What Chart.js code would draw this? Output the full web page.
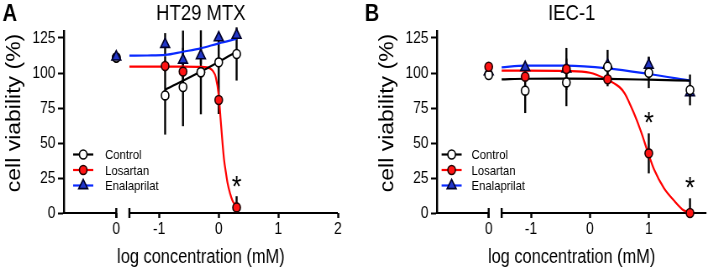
<!DOCTYPE html>
<html>
<head>
<meta charset="utf-8">
<script src="https://cdn.jsdelivr.net/npm/chart.js@4.4.1/dist/chart.umd.min.js"></script>
<style>
html,body{margin:0;padding:0;background:#fff;overflow:hidden;}
#wrap{position:relative;width:713px;height:271px;background:#fff;}
#wrap canvas{position:absolute;top:0;}
</style>
</head>
<body>
<div id="wrap"><canvas id="chartA"></canvas><canvas id="chartB"></canvas></div>
<script>
// ---------------- data ----------------
const seriesNames = ['Control', 'Losartan', 'Enalaprilat'];
const panelTitles = ['HT29 MTX', 'IEC-1'];
const panelLetters = ['A', 'B'];
const xAxisTitle = 'log concentration (mM)';
const yAxisTitle = 'cell viability (%)';
const CONTROL_X = -1.72;   // axis slot of the untreated ("0") dose, left of the axis break
const BREAK_X = -1.5;      // where the log axis resumes after the break
const yTicks = [0, 25, 50, 75, 100, 125];
const xTicksA = [CONTROL_X, -1, 0, 1, 2];
const xTicksB = [CONTROL_X, -1, 0, 1];

// Panel A : HT29 MTX
const doseA = [CONTROL_X, -0.9, -0.6, -0.3, 0, 0.3];
const controlA = [111, 84, 90, 100.5, 107.6, 113.6];
const controlA_sd = [0, 28, 28, 30, 17, 19];
const losartanA = [111, 105, 101, 100.5, 80.7, 4];
const losartanA_sd = [0, 4, 4, 4, 10, 8];
const enalaprilatA = [111.5, 120.5, 109.3, 112.4, 125.2, 127];
const enalaprilatA_sd = [0, 8, 21, 6, 2, 2];
const starsA_x = [0.3];
const starsA_y = [25];
const fitControlA_x = [-0.9, -0.3, 0.3];
const fitControlA_y = [88, 101, 115.2];
const fitLosartanA_x = [-1.5, -0.9, -0.6, -0.3, -0.2, -0.15, -0.1, -0.05, 0, 0.03, 0.06, 0.09, 0.12, 0.15, 0.19, 0.23, 0.27, 0.3];
const fitLosartanA_y = [104.6, 104.6, 104.6, 104.4, 104, 103.3, 101.5, 97, 84, 68, 52, 38, 29, 21, 14, 9, 6, 4];
const fitEnalaprilatA_x = [-1.5, -1.2, -0.9, -0.6, -0.3, 0, 0.3];
const fitEnalaprilatA_y = [112.4, 112.5, 112.9, 115.2, 117.6, 121.2, 124.3];

// Panel B : IEC-1
const doseB = [CONTROL_X, -1.1, -0.4, 0.3, 1.0, 1.7];
const controlB = [98.6, 87.4, 93.3, 104.5, 100.2, 87.9];
const controlB_sd = [0, 16, 17, 12, 11, 11];
const losartanB = [104.5, 97.4, 102.9, 95.5, 42.6, 0];
const losartanB_sd = [0, 3, 15, 5, 14.3, 10.5];
const enalaprilatB = [101, 104, 103, 105.7, 105.7, 86];
const enalaprilatB_sd = [0, 3, 0, 0, 6, 3];
const starsB_x = [1.0, 1.7];
const starsB_y = [70.7, 23.6];
const fitControlB_x = [-1.5, -1.1, -0.4, 0.3, 1.0, 1.7];
const fitControlB_y = [95.5, 95.9, 96, 95.8, 95.2, 94.5];
const fitLosartanB_x = [-1.5, -1.1, -0.4, 0, 0.25, 0.5, 0.59, 0.75, 0.86, 0.98, 1.09, 1.26, 1.42, 1.59, 1.7];
const fitLosartanB_y = [101.7, 101.7, 101.4, 100.2, 96.2, 90, 85.5, 71, 59, 44, 31, 17.6, 9.3, 2, 0.3];
const fitEnalaprilatB_x = [-1.5, -1.1, -0.4, 0.3, 1.0, 1.7];
const fitEnalaprilatB_y = [104, 105.2, 105.2, 103.3, 99.3, 94.5];

// ---------------- styling ----------------
const FONT = "'Liberation Sans', Arial, Helvetica, sans-serif";
const S = 0.84;            // horizontal compression of the reference figure
const H = 271;
const PLOT_TOP = 31, PLOT_BOTTOM = 213;
const X_MIN = -2.6, Y_MIN = 0, Y_MAX = 130;
const styles = {
  Control:     {line: '#000000', shape: 'circle',   fill: '#ffffff', stroke: '#000000', r: 4.5},
  Losartan:    {line: '#ff0000', shape: 'circle',   fill: '#ff1414', stroke: '#200000', r: 4.5},
  Enalaprilat: {line: '#0a2aff', shape: 'triangle', fill: '#2236c8', stroke: '#00002a', r: 6.2}
};
Chart.defaults.font.family = FONT;
Chart.defaults.color = '#000';

function pts(xs, ys) { return xs.map((x, i) => ({x: x, y: ys[i]})); }

function drawMarker(ctx, st, cx, cy) {
  ctx.beginPath();
  if (st.shape === 'circle') {
    ctx.arc(cx, cy, st.r, 0, Math.PI * 2);
  } else {
    let rad = 0;
    ctx.moveTo(cx + Math.sin(rad) * st.r, cy - Math.cos(rad) * st.r);
    rad += 2 * Math.PI / 3;
    ctx.lineTo(cx + Math.sin(rad) * st.r, cy - Math.cos(rad) * st.r);
    rad += 2 * Math.PI / 3;
    ctx.lineTo(cx + Math.sin(rad) * st.r, cy - Math.cos(rad) * st.r);
    ctx.closePath();
  }
  ctx.fillStyle = st.fill; ctx.fill();
  ctx.lineWidth = 1.6; ctx.strokeStyle = st.stroke; ctx.stroke();
}

const decor = {
  id: 'decor',
  beforeDatasetsDraw(chart, args, o) {
    const {ctx, chartArea: a, scales: {x, y}} = chart;
    ctx.save();
    ctx.strokeStyle = '#000';
    // broken x axis
    const yb = a.bottom;
    const pC = x.getPixelForValue(CONTROL_X), pB = x.getPixelForValue(BREAK_X);
    ctx.lineWidth = 2;
    ctx.beginPath();
    ctx.moveTo(a.left - 1.2, yb); ctx.lineTo(pC, yb);
    ctx.moveTo(pB, yb); ctx.lineTo(a.right, yb);
    ctx.stroke();
    ctx.lineWidth = 2.4;
    ctx.beginPath();
    ctx.moveTo(pC, yb - 5); ctx.lineTo(pC, yb + 5);
    ctx.moveTo(pB, yb - 5); ctx.lineTo(pB, yb + 5);
    ctx.stroke();
    // error bars (mean ± SD)
    ctx.lineWidth = 2.4;
    o.errorBars.forEach(eb => {
      eb.xs.forEach((xv, i) => {
        const sd = eb.sd[i];
        if (!sd) return;
        const px = x.getPixelForValue(xv);
        const lo = Math.max(Y_MIN, eb.ys[i] - sd), hi = eb.ys[i] + sd;
        ctx.beginPath();
        ctx.moveTo(px, y.getPixelForValue(lo));
        ctx.lineTo(px, y.getPixelForValue(hi));
        ctx.stroke();
      });
    });
    ctx.restore();
  },
  afterDraw(chart, args, o) {
    const {ctx, chartArea: a, scales: {x, y}} = chart;
    ctx.save();
    ctx.fillStyle = '#000';
    ctx.textBaseline = 'alphabetic';
    ctx.font = '22px ' + FONT;
    ctx.textAlign = 'center';
    ctx.fillText(o.title, (a.left + a.right) / 2, 20);
    ctx.font = 'bold 24px ' + FONT;
    ctx.textAlign = 'left';
    ctx.fillText(o.letter, o.letterX, 21);
    // y axis title
    ctx.save();
    ctx.translate(o.yTitleX, o.yTitleY);
    ctx.rotate(-Math.PI / 2);
    ctx.font = '23px ' + FONT;
    ctx.textAlign = 'center';
    ctx.textBaseline = 'middle';
    ctx.fillText(yAxisTitle, 0, 0);
    ctx.restore();
    // legend
    seriesNames.forEach((name, i) => {
      const st = styles[name];
      const cy = o.legendRows[i];
      ctx.strokeStyle = st.line; ctx.lineWidth = 2.2;
      ctx.beginPath(); ctx.moveTo(o.legendX0, cy); ctx.lineTo(o.legendX1, cy); ctx.stroke();
      drawMarker(ctx, st, (o.legendX0 + o.legendX1) / 2, cy);
      ctx.fillStyle = '#000';
      ctx.font = '13.5px ' + FONT;
      ctx.textAlign = 'left';
      ctx.textBaseline = 'middle';
      ctx.fillText(name, o.legendTextX, cy + 1);
    });
    // significance stars
    ctx.textBaseline = 'alphabetic';
    ctx.textAlign = 'center';
    ctx.font = '30px ' + FONT;
    o.starsX.forEach((sx, i) => {
      ctx.fillText('*', x.getPixelForValue(sx), y.getPixelForValue(o.starsY[i]) + 17.5);
    });
    ctx.restore();
  }
};

function buildPanel(canvasId, cssLeft, cssW, p) {
  const canvas = document.getElementById(canvasId);
  const w = Math.round(cssW / S);
  canvas.width = w; canvas.height = H;
  canvas.style.left = cssLeft + 'px';
  canvas.style.width = cssW + 'px';
  canvas.style.height = H + 'px';

  const curve = (name, xs, ys) => ({
    label: name + ' fit', data: pts(xs, ys), showLine: true,
    borderColor: styles[name].line, borderWidth: 2.2, pointRadius: 0,
    cubicInterpolationMode: 'monotone', fill: false, order: 10
  });
  const marks = (name, xs, ys, order) => ({
    label: name, data: pts(xs, ys), showLine: false, clip: false,
    pointStyle: styles[name].shape, pointRadius: styles[name].r,
    pointBackgroundColor: styles[name].fill, pointBorderColor: styles[name].stroke,
    pointBorderWidth: 1.6, order: order
  });

  return new Chart(canvas, {
    type: 'scatter',
    data: {
      datasets: [
        curve('Control', p.fit.control[0], p.fit.control[1]),
        curve('Losartan', p.fit.losartan[0], p.fit.losartan[1]),
        curve('Enalaprilat', p.fit.enalaprilat[0], p.fit.enalaprilat[1]),
        marks('Control', p.dose, p.control, p.order[0]),
        marks('Losartan', p.dose, p.losartan, p.order[1]),
        marks('Enalaprilat', p.dose, p.enalaprilat, p.order[2])
      ]
    },
    options: {
      responsive: false, devicePixelRatio: 1, animation: false, events: [],
      layout: {padding: {left: 0, right: w - p.plotRight, top: PLOT_TOP, bottom: 0}},
      plugins: {
        legend: {display: false}, tooltip: {enabled: false},
        decor: {
          title: p.title, letter: p.letter, letterX: p.letterX,
          yTitleX: p.yTitleX, yTitleY: 113,
          legendRows: [154.5, 170, 185.5], legendX0: p.legendX0, legendX1: p.legendX1, legendTextX: p.legendTextX,
          starsX: p.starsX, starsY: p.starsY,
          errorBars: [
            {xs: p.dose, ys: p.control, sd: p.controlSd},
            {xs: p.dose, ys: p.losartan, sd: p.losartanSd},
            {xs: p.dose, ys: p.enalaprilat, sd: p.enalaprilatSd}
          ]
        }
      },
      scales: {
        x: {
          type: 'linear', min: X_MIN, max: p.xMax,
          afterBuildTicks: s => { s.ticks = p.xTicks.map(v => ({value: v})); },
          afterFit: s => { s.height = H - PLOT_BOTTOM; },
          ticks: {
            callback: v => (v === CONTROL_X ? '0' : String(v)),
            font: {size: 16.5}, color: '#000', padding: 2, maxRotation: 0, autoSkip: false
          },
          grid: {drawOnChartArea: false, drawTicks: true, tickLength: 5, tickWidth: 2.4, tickColor: '#000'},
          border: {display: false},
          title: {display: true, text: xAxisTitle, font: {size: 19.5}, color: '#000', padding: {top: 0, bottom: 2}}
        },
        y: {
          type: 'linear', min: Y_MIN, max: Y_MAX,
          afterBuildTicks: s => { s.ticks = yTicks.map(v => ({value: v})); },
          afterFit: s => { s.width = p.yAxisW; },
          ticks: {font: {size: 16.5}, color: '#000', padding: 3},
          grid: {drawOnChartArea: false, drawTicks: true, tickLength: 7, tickWidth: 2, tickColor: '#000'},
          border: {display: true, color: '#000', width: 2.4},
          title: {display: false, text: yAxisTitle}
        }
      }
    },
    plugins: [decor]
  });
}

buildPanel('chartA', 0, 358, {
  title: panelTitles[0], letter: panelLetters[0], letterX: 3,
  dose: doseA, control: controlA, losartan: losartanA, enalaprilat: enalaprilatA,
  controlSd: controlA_sd, losartanSd: losartanA_sd, enalaprilatSd: enalaprilatA_sd,
  fit: {control: [fitControlA_x, fitControlA_y], losartan: [fitLosartanA_x, fitLosartanA_y], enalaprilat: [fitEnalaprilatA_x, fitEnalaprilatA_y]},
  order: [2, 3, 1],
  starsX: starsA_x, starsY: starsA_y,
  xTicks: xTicksA, xMax: 2.0, yAxisW: 76, plotRight: 402, yTitleX: 18,
  legendX0: 87, legendX1: 111, legendTextX: 125
});

buildPanel('chartB', 358, 355, {
  title: panelTitles[1], letter: panelLetters[1], letterX: 8,
  dose: doseB, control: controlB, losartan: losartanB, enalaprilat: enalaprilatB,
  controlSd: controlB_sd, losartanSd: losartanB_sd, enalaprilatSd: enalaprilatB_sd,
  fit: {control: [fitControlB_x, fitControlB_y], losartan: [fitLosartanB_x, fitLosartanB_y], enalaprilat: [fitEnalaprilatB_x, fitEnalaprilatB_y]},
  order: [2, 1, 3],
  starsX: starsB_x, starsY: starsB_y,
  xTicks: xTicksB, xMax: 1.98, yAxisW: 94, plotRight: 419, yTitleX: 36,
  legendX0: 99.6, legendX1: 123.5, legendTextX: 135.3
});
</script>
</body>
</html>
